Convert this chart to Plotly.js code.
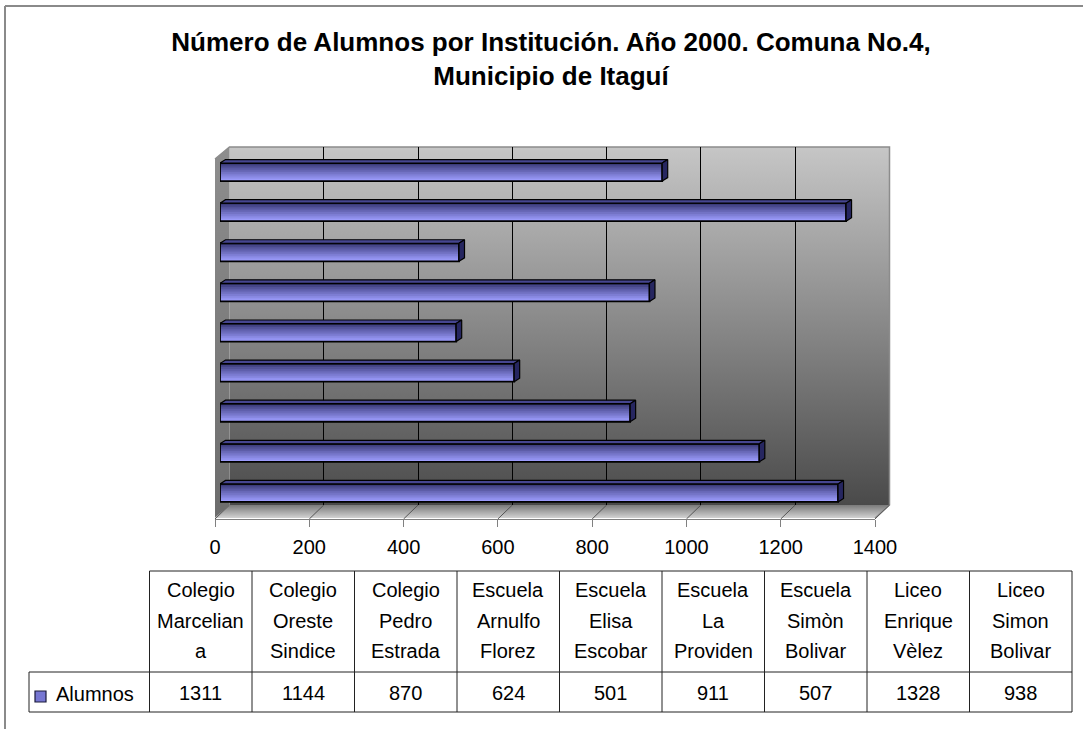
<!DOCTYPE html>
<html><head><meta charset="utf-8">
<script src="https://cdn.plot.ly/plotly-3.0.1.min.js"></script>
<style>html,body{margin:0;padding:0;background:#fff}#chart{width:1083px;height:729px}</style>
</head><body><div id="chart"></div>
<script>
// ---------------- data ----------------
const tableLabels = [
  ["Colegio","Marcelian","a"],
  ["Colegio","Oreste","Sindice"],
  ["Colegio","Pedro","Estrada"],
  ["Escuela","Arnulfo","Florez"],
  ["Escuela","Elisa","Escobar"],
  ["Escuela","La","Providen"],
  ["Escuela","Simòn","Bolivar"],
  ["Liceo","Enrique","Vèlez"],
  ["Liceo","Simon","Bolivar"]
];
const alumnos = [1311, 1144, 870, 624, 501, 911, 507, 1328, 938];
const seriesName = "Alumnos";
const xTickVals = [0, 200, 400, 600, 800, 1000, 1200, 1400];
const gridVals = [200, 400, 600, 800, 1000, 1200];
const titleText = "<b>Número de Alumnos por Institución. Año 2000. Comuna No.4,<br>Municipio de Itaguí</b>";

// ---------------- geometry helpers ----------------
const W = 1083, H = 729;
const PX = x => x / W, PY = y => 1 - y / H;
const FONT = "Liberation Sans, Arial, sans-serif";
const xMax = 1400;
const front = {x0: 215, x1: 875, y: 519};
const barG = {x0: 220, x1: 880, yBot: 513, yTop: 152};
const wall = {x0: 229.5, x1: 889.5, yTop: 147, yBot: 505};
const floorFrontY = 518;

// background (3D walls) drawn on a canvas used as a layout image
const bgX = 214, bgY = 145, bgW = 677, bgH = 376;
const cv = document.createElement('canvas');
cv.width = bgW; cv.height = bgH;
const g = cv.getContext('2d');
// back wall
let gr = g.createLinearGradient(0, wall.yTop - bgY, 0, wall.yBot - bgY);
gr.addColorStop(0, '#c6c6c6'); gr.addColorStop(1, '#4a4a4a');
g.fillStyle = gr;
g.fillRect(wall.x0 - bgX, wall.yTop - bgY, wall.x1 - wall.x0, wall.yBot - wall.yTop);
// left wall
gr = g.createLinearGradient(0, 0, 0, bgH);
gr.addColorStop(0, '#8e8e8e'); gr.addColorStop(1, '#6c6c6c');
g.fillStyle = gr;
g.beginPath();
g.moveTo(front.x0 - bgX, 159 - bgY);
g.lineTo(wall.x0 - bgX, wall.yTop - bgY);
g.lineTo(wall.x0 - bgX, wall.yBot - bgY);
g.lineTo(front.x0 - bgX, floorFrontY - bgY);
g.closePath(); g.fill();
// floor
gr = g.createLinearGradient(0, wall.yBot - bgY, 0, floorFrontY - bgY);
gr.addColorStop(0, '#7a7a7a'); gr.addColorStop(1, '#d2d2d2');
g.fillStyle = gr;
g.beginPath();
g.moveTo(front.x0 - bgX, floorFrontY - bgY);
g.lineTo(wall.x0 - bgX, wall.yBot - bgY);
g.lineTo(wall.x1 - bgX, wall.yBot - bgY);
g.lineTo(front.x1 - bgX, floorFrontY - bgY);
g.closePath(); g.fill();
// wall edges
g.strokeStyle = '#8c8c8c'; g.lineWidth = 1.5;
g.beginPath();
g.moveTo(front.x0 - bgX, 159 - bgY);
g.lineTo(wall.x0 - bgX, wall.yTop - bgY);
g.lineTo(wall.x1 - bgX, wall.yTop - bgY);
g.lineTo(wall.x1 - bgX, wall.yBot - bgY);
g.lineTo(front.x1 - bgX, floorFrontY - bgY);
g.stroke();

// ---------------- traces ----------------
const idx = alumnos.map((_, i) => i);
const barH = 0.45;
const N = 10;
const cTop = [56, 56, 118], cBot = [156, 156, 252];
const traces = [];
traces.push({type: 'scatter', x: [null], y: [null], xaxis: 'x', yaxis: 'y', showlegend: false, hoverinfo: 'skip'});
traces.push({type: 'scatter', x: [null], y: [null], xaxis: 'x3', yaxis: 'y3', showlegend: false, hoverinfo: 'skip'});

// 3D faces of bars
const pxPerUnit = (barG.x1 - barG.x0) / xMax;
const dxU = 5.5 / pxPerUnit;
const dyU = 3.5 / ((barG.yBot - barG.yTop) / alumnos.length);
const topX = [], topY = [], sideX = [], sideY = [];
alumnos.forEach((v, i) => {
  const yt = i + barH / 2, yb = i - barH / 2;
  topX.push(0, dxU, v + dxU, v, 0, null);
  topY.push(yt, yt + dyU, yt + dyU, yt, yt, null);
  sideX.push(v, v + dxU, v + dxU, v, v, null);
  sideY.push(yt, yt + dyU, yb + dyU, yb, yt, null);
});
traces.push({type: 'scatter', x: topX, y: topY, xaxis: 'x2', yaxis: 'y2', mode: 'lines', fill: 'toself',
  fillcolor: '#464690', line: {color: '#000', width: 1.2}, showlegend: false, hoverinfo: 'skip'});
traces.push({type: 'scatter', x: sideX, y: sideY, xaxis: 'x2', yaxis: 'y2', mode: 'lines', fill: 'toself',
  fillcolor: '#262660', line: {color: '#000', width: 1.2}, showlegend: false, hoverinfo: 'skip'});

// gradient bands for front faces
for (let k = 0; k < N; k++) {
  const t = Math.pow(k / (N - 1), 0.9);
  const c = cTop.map((a, j) => Math.round(a + (cBot[j] - a) * t));
  traces.push({type: 'bar', orientation: 'h', x: alumnos, y: idx, xaxis: 'x2', yaxis: 'y2',
    width: barH / N + 0.002, offset: barH / 2 - (k + 1) * barH / N,
    marker: {color: `rgb(${c.join(',')})`, line: {width: 0}}, showlegend: false, hoverinfo: 'skip'});
}
// outline (and hover)
traces.push({type: 'bar', orientation: 'h', x: alumnos, y: idx, xaxis: 'x2', yaxis: 'y2', name: seriesName,
  width: barH, offset: -barH / 2,
  text: tableLabels.map(l => l.join(' ')),
  hovertemplate: '%{text}: %{x}<extra></extra>',
  textposition: 'none',
  marker: {color: 'rgba(0,0,0,0)', line: {color: '#000', width: 1.8}}, showlegend: false});

// ---------------- shapes & annotations ----------------
const shapes = [];
const annotations = [];
xTickVals.forEach(v => {
  const xf = front.x0 + v * (front.x1 - front.x0) / xMax;
  const xb = wall.x0 + v * (wall.x1 - wall.x0) / xMax;
  shapes.push({type: 'line', xref: 'paper', yref: 'paper', x0: PX(xf), y0: PY(front.y), x1: PX(xb), y1: PY(wall.yBot),
    line: {color: '#555', width: 1}, layer: 'below'});
});
shapes.push({type: 'line', xref: 'paper', yref: 'paper', x0: PX(5), y0: PY(6), x1: PX(5), y1: 0, line: {color: '#8a8a8a', width: 2}});
shapes.push({type: 'line', xref: 'paper', yref: 'paper', x0: PX(5), y0: PY(6), x1: 1, y1: PY(6), line: {color: '#8a8a8a', width: 2}});

// data table
const tb = {x0: 29, xc: 149.5, cw: 102.5, yTop: 571, yMid: 672, yBot: 712};
const n = alumnos.length;
const tRight = tb.xc + tb.cw * n;
const hl = (x0, x1, y) => shapes.push({type: 'line', xref: 'paper', yref: 'paper', x0: PX(x0), x1: PX(x1), y0: PY(y), y1: PY(y), line: {color: '#222', width: 1}});
const vl = (x, y0, y1) => shapes.push({type: 'line', xref: 'paper', yref: 'paper', x0: PX(x), x1: PX(x), y0: PY(y0), y1: PY(y1), line: {color: '#222', width: 1}});
hl(tb.xc, tRight, tb.yTop);
hl(tb.x0, tRight, tb.yMid);
hl(tb.x0, tRight, tb.yBot);
vl(tb.x0, tb.yMid, tb.yBot);
for (let k = 0; k <= n; k++) vl(tb.xc + k * tb.cw, tb.yTop, tb.yBot);

const tfont = {family: FONT, size: 20, color: '#000'};
tableLabels.forEach((lines, k) => {
  const cx = tb.xc + tb.cw * (k + 0.5);
  lines.forEach((s, j) => {
    annotations.push({xref: 'paper', yref: 'paper', x: PX(cx), y: PY(590 + 30.5 * j), text: s, showarrow: false,
      xanchor: 'center', yanchor: 'middle', font: tfont});
  });
  annotations.push({xref: 'paper', yref: 'paper', x: PX(cx), y: PY(693), text: String(alumnos[k]), showarrow: false,
    xanchor: 'center', yanchor: 'middle', font: tfont});
});
annotations.push({xref: 'paper', yref: 'paper', x: PX(54), y: PY(694), text: seriesName, showarrow: false,
  xanchor: 'left', yanchor: 'middle', font: tfont});
shapes.push({type: 'rect', xref: 'paper', yref: 'paper', x0: PX(35), x1: PX(46), y0: PY(702), y1: PY(691),
  fillcolor: '#7676d2', line: {color: '#1a1a3a', width: 1.2}});

// ---------------- layout ----------------
const layout = {
  width: W, height: H,
  margin: {l: 0, r: 0, t: 0, b: 0},
  paper_bgcolor: '#fff', plot_bgcolor: 'rgba(0,0,0,0)',
  barmode: 'overlay',
  showlegend: false,
  font: {family: FONT, color: '#000'},
  title: {text: titleText, font: {family: FONT, size: 26, color: '#000'},
    x: PX(551), xanchor: 'center', y: PY(51), yanchor: 'middle', xref: 'paper', yref: 'paper'},
  xaxis: {domain: [PX(wall.x0), PX(wall.x1)], range: [0, xMax], anchor: 'y',
    tickmode: 'array', tickvals: gridVals, showgrid: true, gridcolor: '#000', gridwidth: 1,
    showticklabels: false, ticks: '', showline: false, zeroline: false, fixedrange: true},
  yaxis: {domain: [PY(wall.yBot), PY(wall.yTop)], range: [0, 1], anchor: 'x', visible: false, fixedrange: true},
  xaxis2: {domain: [PX(barG.x0), PX(barG.x1)], range: [0, xMax], anchor: 'y2', visible: false, fixedrange: true},
  yaxis2: {domain: [PY(barG.yBot), PY(barG.yTop)], range: [-0.5, n - 0.5], anchor: 'x2', visible: false, fixedrange: true},
  xaxis3: {domain: [PX(front.x0), PX(front.x1)], range: [0, xMax], anchor: 'y3',
    tickmode: 'array', tickvals: xTickVals, ticks: 'outside', ticklen: 7, tickcolor: '#808080', tickwidth: 1,
    showline: true, linecolor: '#808080', linewidth: 1, showgrid: false, zeroline: false,
    tickfont: {family: FONT, size: 20, color: '#000'}, ticklabelstandoff: 3, fixedrange: true},
  yaxis3: {domain: [PY(front.y), PY(wall.yTop)], range: [0, 1], anchor: 'x3', visible: false, fixedrange: true},
  images: [{source: cv.toDataURL('image/png'), xref: 'paper', yref: 'paper', x: PX(bgX), y: PY(bgY),
    sizex: bgW / W, sizey: bgH / H, sizing: 'stretch', xanchor: 'left', yanchor: 'top', layer: 'below'}],
  shapes: shapes,
  annotations: annotations
};

Plotly.newPlot('chart', traces, layout, {displayModeBar: false});
</script>
</body></html>
